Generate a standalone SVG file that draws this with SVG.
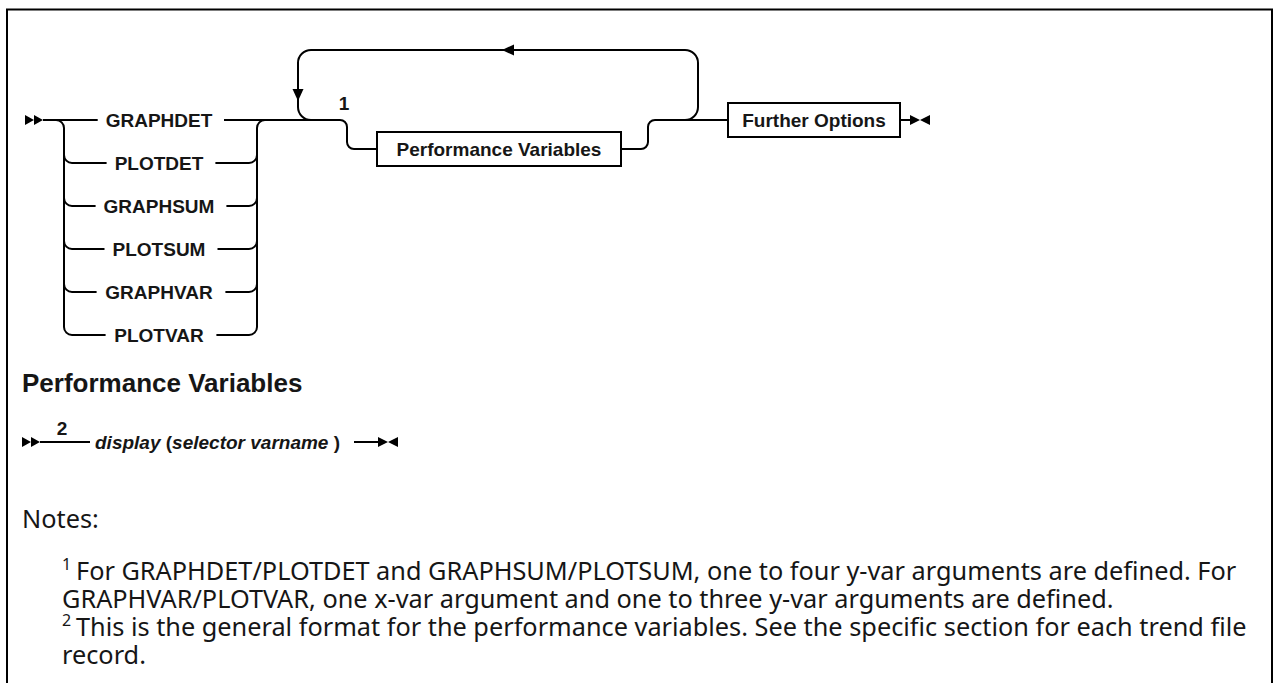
<svg xmlns="http://www.w3.org/2000/svg" width="1274" height="683" viewBox="0 0 1274 683">
<style>
.ln{fill:none;stroke:#000;stroke-width:2}
.box{fill:#fff;stroke:#000;stroke-width:2}
.mk{fill:#000;stroke:none}
.lbl{font-family:"Liberation Sans",Arial,sans-serif;font-weight:bold;font-size:19px;fill:#161616}
.c{text-anchor:middle}
.it{font-style:italic}
.head{font-family:"Liberation Sans",Arial,sans-serif;font-weight:bold;font-size:26px;fill:#161616}
.note{font-family:"Noto Sans","Liberation Sans",sans-serif;font-size:25.3px;fill:#161616}
.sup{font-size:16px}
</style>
<rect width="1274" height="683" fill="#fff"/>
<path class="ln" d="M7,683 V9.5 H1272 V683" stroke-width="2.5"/>

<g id="connectors">
  <path class="ln" d="M43,120 H97.7"/>
  <path class="ln" d="M224,120 H340 A7,7 0 0 1 347,127 V142 A7,7 0 0 0 354,149 H377"/>
  <path class="ln" d="M56,120 A8,8 0 0 1 64,128 V327 A8,8 0 0 0 72,335 H105.6"/>
  <path class="ln" d="M64,155 A8,8 0 0 0 72,163 H106.6"/>
  <path class="ln" d="M64,198 A8,8 0 0 0 72,206 H95.6"/>
  <path class="ln" d="M64,241 A8,8 0 0 0 72,249 H104.5"/>
  <path class="ln" d="M64,284 A8,8 0 0 0 72,292 H96.6"/>
  <path class="ln" d="M215.4,163 H249 A8,8 0 0 0 257,155"/>
  <path class="ln" d="M226.4,206 H249 A8,8 0 0 0 257,198"/>
  <path class="ln" d="M217.5,249 H249 A8,8 0 0 0 257,241"/>
  <path class="ln" d="M225.4,292 H249 A8,8 0 0 0 257,284"/>
  <path class="ln" d="M216.4,335 H249 A8,8 0 0 0 257,327 V128 A8,8 0 0 1 265,120"/>
  <path class="ln" d="M621,149 H641 A7,7 0 0 0 648,142 V127 A7,7 0 0 1 655,120 H728"/>
  <path class="ln" d="M685,120 A13,13 0 0 0 698,107 V63 A13,13 0 0 0 685,50 H311 A13,13 0 0 0 298,63 V107 A13,13 0 0 0 311,120"/>
  <polygon class="mk" points="502,50 514,44.5 514,55.5"/>
  <polygon class="mk" points="298,101 292.5,89 303.5,89"/>
  <path class="ln" d="M900,120 H910"/>
  <path class="ln" d="M40,442 H90"/>
  <path class="ln" d="M354,442 H378"/>
</g>

<g id="start">
  <polygon class="mk" points="25,115 34,120 25,125"/>
  <polygon class="mk" points="34,115 43,120 34,125"/>
</g>
<g id="opt-graphdet"><text class="lbl c" x="159" y="127">GRAPHDET</text></g>
<g id="opt-plotdet"><text class="lbl c" x="159" y="170">PLOTDET</text></g>
<g id="opt-graphsum"><text class="lbl c" x="159" y="213">GRAPHSUM</text></g>
<g id="opt-plotsum"><text class="lbl c" x="159" y="256">PLOTSUM</text></g>
<g id="opt-graphvar"><text class="lbl c" x="159" y="299">GRAPHVAR</text></g>
<g id="opt-plotvar"><text class="lbl c" x="159" y="342">PLOTVAR</text></g>
<g id="note-ref-1"><text class="lbl c" x="344" y="110" font-size="18">1</text></g>
<g id="perf-vars">
  <rect class="box" x="377" y="132" width="244" height="34"/>
  <text class="lbl c" x="499" y="156">Performance Variables</text>
</g>
<g id="further-options">
  <rect class="box" x="728" y="103" width="172" height="34"/>
  <text class="lbl c" x="814" y="127">Further Options</text>
</g>
<g id="end">
  <polygon class="mk" points="910,115 920,120 910,125"/>
  <polygon class="mk" points="930,115 920,120 930,125"/>
</g>

<g id="perf-heading"><text class="head" x="22" y="392">Performance Variables</text></g>
<g id="pv-start">
  <polygon class="mk" points="22,437 31,442 22,447"/>
  <polygon class="mk" points="31,437 40,442 31,447"/>
</g>
<g id="note-ref-2"><text class="lbl c" x="62" y="435" font-size="16">2</text></g>
<g id="pv-display">
  <text class="lbl" x="95" y="449" font-size="19.5"><tspan class="it">display</tspan> (<tspan class="it">selector varname</tspan> )</text>
</g>
<g id="pv-end">
  <polygon class="mk" points="378,437 388,442 378,447"/>
  <polygon class="mk" points="398,437 388,442 398,447"/>
</g>

<g id="notes">
  <text class="note" x="22" y="528">Notes:</text>
  <text class="note sup" x="62" y="570">1</text>
  <text class="note" x="76" y="580">For GRAPHDET/PLOTDET and GRAPHSUM/PLOTSUM, one to four y-var arguments are defined. For</text>
  <text class="note" x="62" y="608">GRAPHVAR/PLOTVAR, one x-var argument and one to three y-var arguments are defined.</text>
  <text class="note sup" x="62" y="626">2</text>
  <text class="note" x="76" y="636">This is the general format for the performance variables. See the specific section for each trend file</text>
  <text class="note" x="62" y="664">record.</text>
</g>
</svg>
